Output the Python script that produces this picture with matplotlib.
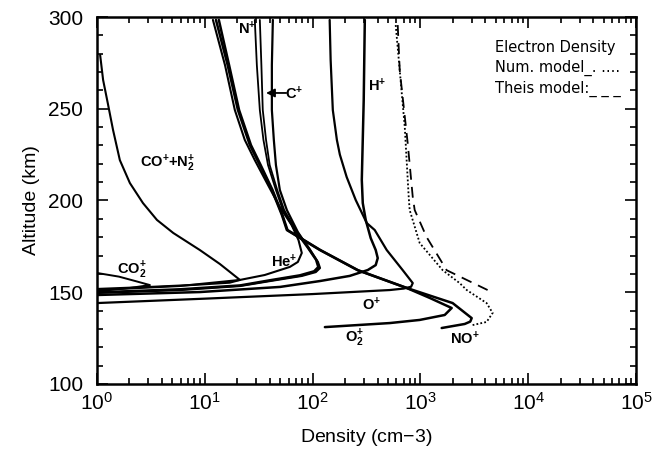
import math
import matplotlib
matplotlib.use('Agg')
import matplotlib.pyplot as plt
from matplotlib.ticker import LogLocator, MultipleLocator, FuncFormatter

plt.rcParams['font.family'] = ['Liberation Sans', 'DejaVu Sans']
plt.rcParams['mathtext.fontset'] = 'custom'
plt.rcParams['mathtext.rm'] = 'Liberation Sans'
plt.rcParams['mathtext.it'] = 'Liberation Sans'
plt.rcParams['mathtext.bf'] = 'Liberation Sans:bold'

# ion density profiles (cm-3) vs altitude (km)
co_n2_dens = [1.07, 1.14, 1.26, 1.41, 1.63, 2.02, 2.67, 3.6, 5.1, 9.0, 13.8, 21.2, 17, 8, 3.1, 1.0]
co_n2_alt = [279.3, 265.7, 253, 238.4, 222, 209.5, 198.6, 189.4, 182.3, 173, 165.4, 156.7, 155.2, 154, 152.9, 151.8]

co2_dens = [1.0, 1.6, 2.3, 3.1, 2.0, 1.0]
co2_alt = [160.5, 158.5, 156, 153.9, 152.3, 150.5]

he_dens = [11.9, 15.4, 19.0, 23.5, 29.1, 38.6, 49.7, 64, 74, 79.4, 73, 61.5, 36, 21.2, 5.9, 1.0]
he_alt = [298.4, 273.8, 249.3, 233, 222, 208.4, 196.4, 186.6, 178.4, 171.4, 166.5, 163.8, 159.4, 156.7, 153.4, 151.2]

o2_dens = [12.7, 16.3, 20.3, 26.2, 32.4, 41.9, 51.9, 57.7, 117, 262, 747, 1220, 1950, 1680, 985, 520, 130]
o2_alt = [298.4, 273.8, 249.3, 230.2, 219.3, 205.7, 192.1, 183.9, 173, 162, 152.3, 146.9, 141.4, 137.6, 134.9, 133.2, 131.0]

no_dens = [13.5, 16.8, 20.8, 26.8, 33, 42.5, 52.5, 58.5, 118, 264, 750, 1990, 2990, 2900, 2575, 1575]
no_alt = [298.4, 273.8, 249.3, 230.2, 219.3, 205.7, 192.1, 183.9, 173, 162, 152.3, 144.1, 135.9, 134.0, 132.7, 130.5]

n_a_dens = [29.1, 30.4, 32.4, 35, 38.6, 45.7, 53, 68, 90, 107, 112, 103, 76, 40, 21.2, 5.9, 1]
n_a_alt = [298.4, 273.8, 249.3, 233, 219.3, 205.7, 194.8, 183.9, 174.1, 167.6, 163.8, 161.6, 159.4, 156.7, 153.9, 151.8, 150.1]
n_b_dens = [32.4, 33.5, 34.5, 37, 40, 47, 54.5, 70, 93, 110, 115, 105, 78, 41, 21.5, 6, 1]
n_b_alt = [298.4, 273.8, 249.3, 233, 219.3, 205.7, 194.8, 183.9, 174.1, 167.3, 163.5, 161.2, 159, 156.3, 153.5, 151.4, 149.8]

c_dens = [42.8, 41.9, 41.9, 43.7, 45.7, 49.7, 57.7, 73, 94.2, 112, 117, 107, 79.4, 40.1, 21.2, 5.9, 1]
c_alt = [298.4, 273.8, 249.3, 233, 219.3, 205.7, 194.8, 182.8, 173, 166.5, 163.2, 161, 158.9, 156.1, 153.4, 151.2, 149.6]

h_dens = [305, 298, 286, 292, 311, 346, 385, 402, 385, 325, 221, 117, 50, 9, 1]
h_alt = [298.4, 254.8, 211.2, 198.6, 189.4, 179.5, 173, 168.6, 164.8, 162.1, 158.9, 156.1, 152.9, 150.1, 148.5]

o_dens = [144, 147, 154, 168, 179, 207, 251, 318, 377, 487, 686, 849, 820, 700, 520, 100, 10, 1]
o_alt = [298.4, 276.6, 249.3, 233, 225, 212.8, 200.3, 187.7, 183.9, 173, 162, 155, 153, 152, 151.2, 149, 146.5, 144.1]

# electron density
ne_num_dens = [590, 643, 716, 779, 795, 985, 1610, 2310, 2690, 4110, 4680, 4110, 3050]
ne_num_alt = [295.6, 271, 240, 201.9, 194.8, 176.8, 162, 155, 151.2, 144.1, 138.7, 133.8, 132.1]
ne_theis_dens = [616, 643, 763, 849, 885, 1143, 1753, 2690, 4200]
ne_theis_alt = [295.6, 271, 231, 202, 194.8, 180, 162, 156.7, 151.2]

fig = plt.figure(figsize=(6.66, 4.51), dpi=100)
ax = fig.add_axes([0.1456, 0.1486, 0.8094, 0.8137])

profiles = [(co_n2_dens, co_n2_alt, 1.5), (co2_dens, co2_alt, 1.4),
            (he_dens, he_alt, 1.5), (o2_dens, o2_alt, 1.8), (no_dens, no_alt, 1.8),
            (n_a_dens, n_a_alt, 1.3), (n_b_dens, n_b_alt, 1.3), (c_dens, c_alt, 1.6),
            (h_dens, h_alt, 1.8), (o_dens, o_alt, 1.6)]
for d, a, w in profiles:
    ax.plot(d, a, color='black', lw=w, solid_joinstyle='round', solid_capstyle='round')

ax.plot(ne_num_dens, ne_num_alt, color='black', lw=1.3, linestyle=(0, (1, 1.2)))
ax.plot(ne_theis_dens, ne_theis_alt, color='black', lw=1.3, linestyle=(0, (6, 4)))

ax.set_xscale('log')
ax.set_xlim(1, 1e5)
ax.set_ylim(100, 300)

ax.xaxis.set_major_locator(LogLocator(base=10, numticks=10))
ax.xaxis.set_minor_locator(LogLocator(base=10, subs=range(2, 10), numticks=20))
ax.xaxis.set_major_formatter(FuncFormatter(lambda v, p: r'$10^{%d}$' % round(math.log10(v))))
ax.yaxis.set_major_locator(MultipleLocator(50))
ax.yaxis.set_minor_locator(MultipleLocator(10))

ax.tick_params(which='both', direction='in', top=True, right=True, width=1.2)
ax.tick_params(which='major', length=8, labelsize=15)
ax.tick_params(which='minor', length=4)
ax.tick_params(axis='x', which='major', pad=6)
ax.tick_params(axis='y', which='major', pad=10)
for s in ax.spines.values():
    s.set_linewidth(1.8)

ax.set_xlabel('Density (cm$-$3)', fontsize=14, labelpad=9)
ax.set_ylabel('Altitude (km)', fontsize=14, labelpad=6)

fs = 10.5
kw = dict(fontsize=fs, fontweight='bold', ha='center', va='center')
ax.text(24.6, 293.5, r'N$^\mathbf{+}$', **kw)
ax.text(68, 258, r'C$^\mathbf{+}$', **kw)
ax.annotate('', xy=(37, 258.6), xytext=(57, 258.6),
            arrowprops=dict(arrowstyle='-|>,head_length=0.5,head_width=0.25',
                            color='black', lw=1.3, mutation_scale=10, shrinkA=0, shrinkB=0))
ax.text(400, 262.4, r'H$^\mathbf{+}$', **kw)
ax.text(4.5, 220.4, r'CO$^\mathbf{+}$+N$_\mathbf{2}^\mathbf{+}$', **kw)
ax.text(2.1, 162, r'CO$_\mathbf{2}^\mathbf{+}$', **kw)
ax.text(54, 166.5, r'He$^\mathbf{+}$', **kw)
ax.text(354, 143, r'O$^\mathbf{+}$', **kw)
ax.text(246, 125, r'O$_\mathbf{2}^\mathbf{+}$', **kw)
ax.text(2575, 124.5, r'NO$^\mathbf{+}$', **kw)

lkw = dict(fontsize=10.5, ha='left', va='center', family=['DejaVu Sans'])
ax.text(4880, 283.5, 'Electron Density', **lkw)
ax.text(4880, 272, 'Num. model_. ....', **lkw)
ax.text(4880, 261, 'Theis model:_ _ _', **lkw)

fig.savefig('out.png', dpi=100)
